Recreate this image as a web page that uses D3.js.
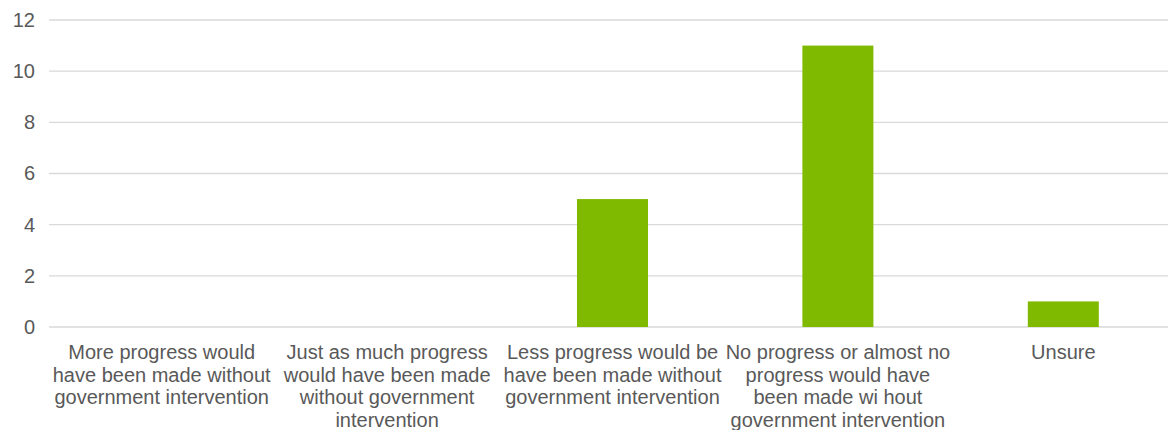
<!DOCTYPE html>
<html>
<head>
<meta charset="utf-8">
<script src="https://cdn.jsdelivr.net/npm/d3@7"></script>
<style>
  html, body { margin: 0; padding: 0; background: #ffffff; }
  svg { display: block; }
  text { font-family: "Liberation Sans", Arial, sans-serif; fill: #595959; }
</style>
</head>
<body>
<svg id="chart" width="1168" height="430"></svg>
<script>
// Category labels, one entry per line of the wrapped label
const categories = [
  ["More progress would", "have been made without", "government intervention"],
  ["Just as much progress", "would have been made", "without government", "intervention"],
  ["Less progress would be", "have been made without", "government intervention"],
  ["No progress or almost no", "progress would have", "been made wi hout", "government intervention"],
  ["Unsure"]
];
const values = [0, 0, 5, 11, 1];
const yTicks = [0, 2, 4, 6, 8, 10, 12];

const svg = d3.select("#chart");
const margin = { left: 49, right: -8, top: 20, bottom: 103 };
const width = 1168, height = 430;

const x = d3.scaleBand()
  .domain(d3.range(categories.length))
  .range([margin.left, width - margin.right])
  .padding(0);

const y = d3.scaleLinear()
  .domain([0, 12])
  .range([height - margin.bottom, margin.top]);

const barW = x.bandwidth() * 0.315;

// Horizontal gridlines
svg.append("g")
  .selectAll("line")
  .data(yTicks)
  .join("line")
  .attr("x1", margin.left)
  .attr("x2", width)
  .attr("y1", d => y(d))
  .attr("y2", d => y(d))
  .attr("stroke", "#d9d9d9")
  .attr("stroke-width", 1.3);

// Y axis labels
const yAxis = d3.axisLeft(y).tickValues(yTicks).tickSize(0).tickPadding(0);
const gy = svg.append("g")
  .attr("transform", `translate(${margin.left - 14},0)`)
  .call(yAxis);
gy.select(".domain").remove();
gy.selectAll("text")
  .style("font-family", '"Liberation Sans", Arial, sans-serif')
  .style("font-size", "20px")
  .attr("fill", "#595959");

// Bars
svg.append("g")
  .selectAll("rect")
  .data(values)
  .join("rect")
  .attr("x", (d, i) => x(i) + x.bandwidth() / 2 - barW / 2)
  .attr("y", d => y(d))
  .attr("width", barW)
  .attr("height", d => y(0) - y(d))
  .attr("fill", "#7fba00");

// Category labels
const lbl = svg.append("g")
  .selectAll("text")
  .data(categories)
  .join("text")
  .attr("text-anchor", "middle")
  .style("font-size", "20px")
  .attr("transform", (d, i) => `translate(${x(i) + x.bandwidth() / 2},${y(0) + 32})`);
lbl.selectAll("tspan")
  .data(d => d)
  .join("tspan")
  .attr("x", 0)
  .attr("dy", (d, i) => i === 0 ? 0 : 22.5)
  .text(d => d);
</script>
</body>
</html>
